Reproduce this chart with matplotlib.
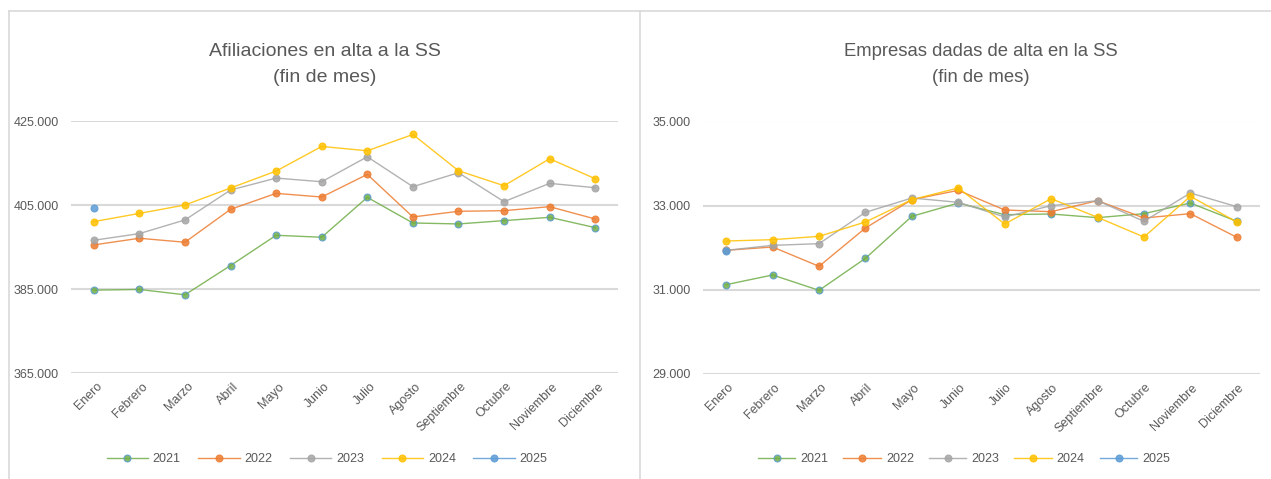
import matplotlib.pyplot as plt
from matplotlib.lines import Line2D
from matplotlib.ticker import FuncFormatter
from matplotlib.transforms import ScaledTranslation

plt.rcParams['font.family'] = ['Liberation Sans Narrow', 'Liberation Sans', 'DejaVu Sans']

meses = ["Enero", "Febrero", "Marzo", "Abril", "Mayo", "Junio", "Julio",
         "Agosto", "Septiembre", "Octubre", "Noviembre", "Diciembre"]
anios = ["2021", "2022", "2023", "2024", "2025"]

# Afiliaciones en alta a la SS (fin de mes)
afil_2021 = [384730, 384890, 383620, 390590, 397790, 397320, 406820, 400720, 400490, 401280, 402070, 399610]
afil_2022 = [395500, 397080, 396130, 403970, 407770, 406900, 412290, 402150, 403500, 403650, 404600, 401670]
afil_2023 = [396600, 398190, 401440, 408560, 411410, 410540, 416480, 409360, 412680, 405790, 410150, 409120]
afil_2024 = [401040, 403000, 405000, 409040, 413080, 418940, 417910, 421790, 413160, 409590, 416010, 411260]
afil_2025 = [404210]

# Empresas dadas de alta en la SS (fin de mes)
emp_2021 = [31123, 31353, 30988, 31749, 32747, 33063, 32786, 32802, 32715, 32810, 33063, 32628]
emp_2022 = [31939, 32018, 31559, 32469, 33143, 33364, 32897, 32857, 33119, 32707, 32810, 32248]
emp_2023 = [31939, 32057, 32097, 32842, 33182, 33079, 32731, 33000, 33119, 32628, 33301, 32976]
emp_2024 = [32160, 32192, 32271, 32612, 33143, 33420, 32564, 33166, 32723, 32255, 33222, 32612]
emp_2025 = [31923]

colores = ["#70AD47", "#ED7D31", "#A5A5A5", "#FFC000", "#5B9BD5"]
bordes = ["#5B9BD5", "#ED7D31", "#A5A5A5", "#FFC000", "#5B9BD5"]
gris_texto = "#595959"

W, H = 1271, 479
fig = plt.figure(figsize=(W / 100, H / 100), dpi=100)


def fx(x):
    return x / W


def fy(y):
    return 1 - y / H


# Bordes de los paneles
borde = "#D9D9D9"
fig.add_artist(Line2D([fx(9), fx(1271)], [fy(11), fy(11)], color=borde, lw=1.2))
fig.add_artist(Line2D([fx(9), fx(9)], [fy(11), fy(479)], color=borde, lw=1.2))
fig.add_artist(Line2D([fx(639.5), fx(639.5)], [fy(11), fy(479)], color=borde, lw=1.2))


def miles(v, pos):
    return f"{v:,.0f}".replace(",", ".")


def panel(rect, series, ylim, yticks, titulo, cx, leg_cx, title_size, hl, cs, dx):
    ax = fig.add_axes(rect)
    x = list(range(len(meses)))
    for i, datos in enumerate(series):
        ax.plot(x[:len(datos)], datos, color=colores[i], lw=1.0, alpha=0.85,
                marker="o", markersize=5, markerfacecolor=colores[i],
                markeredgecolor=bordes[i], markeredgewidth=0.8, label=anios[i], zorder=3)
    ax.set_xlim(-0.5, len(meses) - 0.5)
    ax.set_ylim(*ylim)
    ax.set_yticks(yticks)
    ax.yaxis.set_major_formatter(FuncFormatter(miles))
    ax.grid(axis="y", color="#D9D9D9", lw=1.5)
    ax.set_axisbelow(True)
    for s in ax.spines.values():
        s.set_visible(False)
    ax.tick_params(axis="y", length=0, pad=9, labelsize=9, labelcolor=gris_texto)
    ax.tick_params(axis="x", length=0, pad=4, labelsize=9, labelcolor=gris_texto)
    ax.set_xticks(x)
    ax.set_xticklabels(meses, rotation=45, ha="right", va="top", rotation_mode="anchor")
    desplaza = ScaledTranslation(dx / 100, -2 / 100, fig.dpi_scale_trans)
    for lab in ax.get_xticklabels():
        lab.set_transform(lab.get_transform() + desplaza)

    fig.text(fx(cx), fy(52), titulo[0], ha="center", va="center", fontsize=title_size, color=gris_texto)
    fig.text(fx(cx), fy(77), titulo[1], ha="center", va="center", fontsize=title_size, color=gris_texto)

    fig.legend(handles=ax.get_lines(), loc="center", bbox_to_anchor=(fx(leg_cx), fy(459)),
               ncol=5, frameon=False, fontsize=9, labelcolor=gris_texto,
               handlelength=hl, columnspacing=cs, handletextpad=0.4)
    return ax


panel([fx(71), fy(373), fx(618) - fx(71), fy(121) - fy(373)],
      [afil_2021, afil_2022, afil_2023, afil_2024, afil_2025],
      (365000, 425000), [365000, 385000, 405000, 425000],
      ("Afiliaciones en alta a la SS", "(fin de mes)"), 325, 327, 14, 3.3, 1.4, 2)

panel([fx(703), fy(374), fx(1260) - fx(703), fy(121.5) - fy(374)],
      [emp_2021, emp_2022, emp_2023, emp_2024, emp_2025],
      (29000, 35000), [29000, 31000, 33000, 35000],
      ("Empresas dadas de alta en la SS", "(fin de mes)"), 981, 964, 13.3, 3.0, 1.2, 1)

fig.savefig("out.png", dpi=100)
